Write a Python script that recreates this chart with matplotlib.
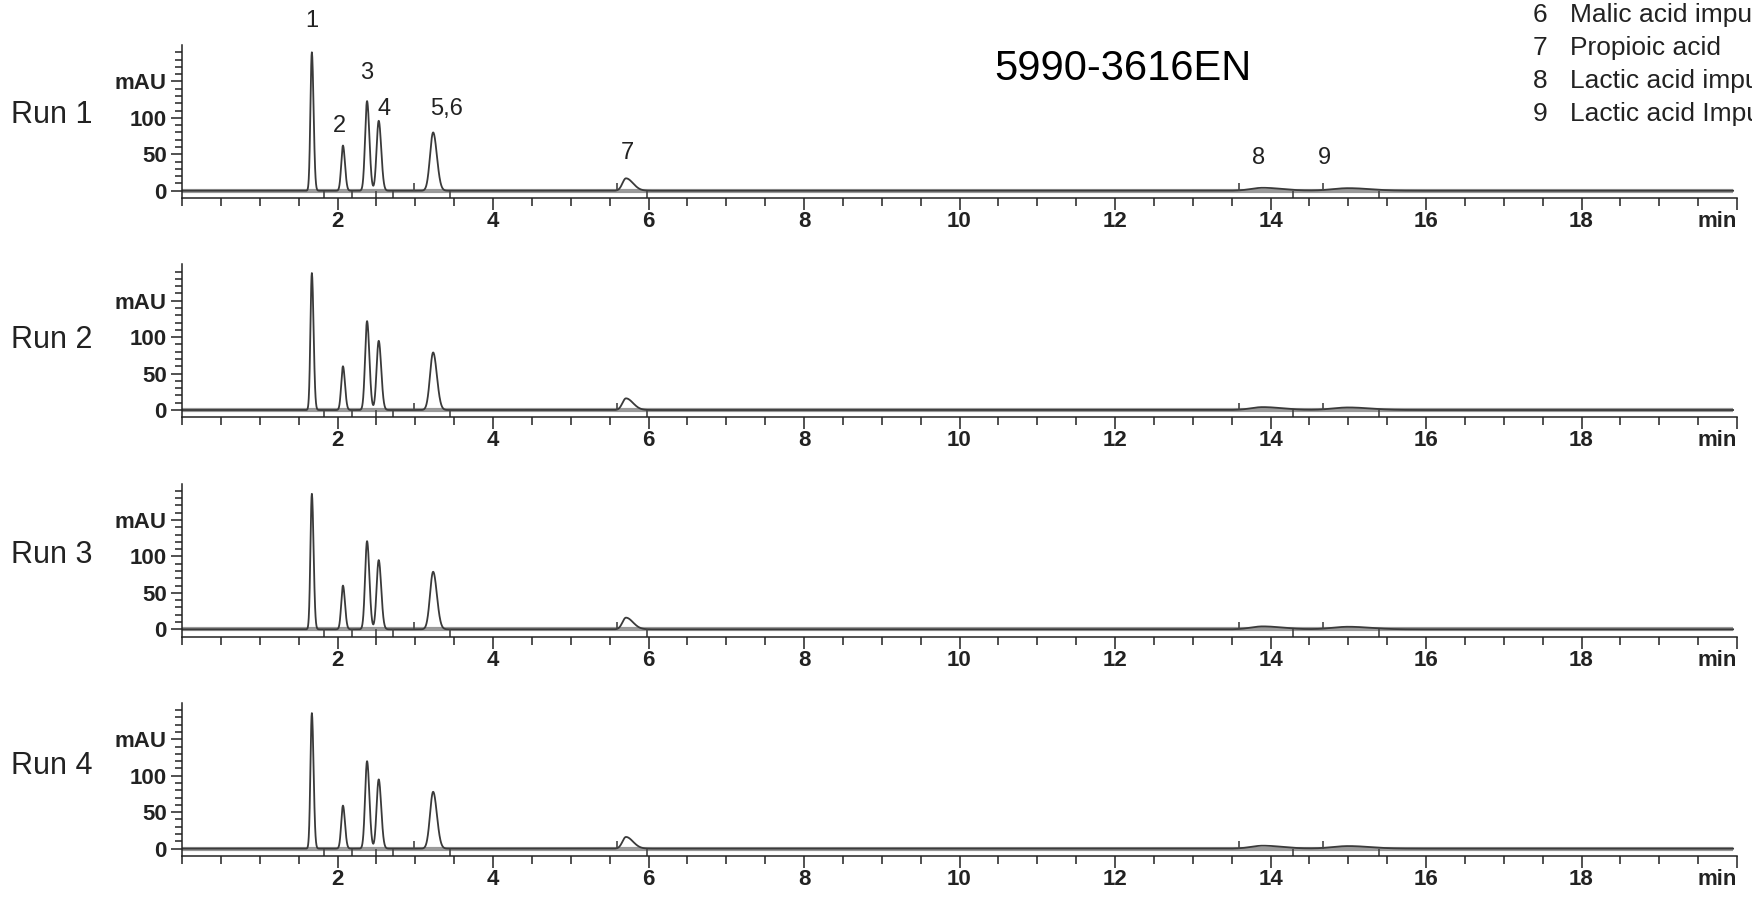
import matplotlib.pyplot as plt
import numpy as np
from matplotlib.ticker import MultipleLocator

plt.rcParams['font.family'] = ['Liberation Sans', 'DejaVu Sans']

runs = ['Run 1', 'Run 2', 'Run 3', 'Run 4']

# peak table: retention time (min), left/right widths (sigma, min)
peak_rt = [1.67, 2.07, 2.38, 2.53, 3.23, 5.71, 13.9, 15.0]
peak_sl = [0.018, 0.022, 0.025, 0.027, 0.040, 0.045, 0.15, 0.20]
peak_sr = [0.022, 0.026, 0.030, 0.032, 0.048, 0.090, 0.25, 0.28]

# peak heights (mAU) per run
heights = {
    'Run 1': [190, 62, 123, 96, 80, 17, 4, 3.5],
    'Run 2': [188, 60, 122, 95, 79, 16, 4, 3.5],
    'Run 3': [186, 60, 121, 95, 79, 16, 4, 3.5],
    'Run 4': [186, 59, 120, 95, 78, 16, 4, 3.5],
}

# integration event marks (min)
mark_up = [2.98, 5.60, 13.60, 14.68]
mark_down = [1.82, 2.19, 2.49, 2.72, 3.45, 5.98, 14.29, 15.40]

peak_labels = ['1', '2', '3', '4', '5,6', '7', '8', '9']
label_t = [1.675, 2.02, 2.37, 2.60, 3.40, 5.73, 13.85, 14.70]
label_y = [233, 89, 161, 112, 112, 52, 45, 45]

legend_num = ['6', '7', '8', '9']
legend_txt = ['Malic acid impurity', 'Propioic acid', 'Lactic acid impurity', 'Lactic acid Impurity']

xtick_pos = [2, 4, 6, 8, 10, 12, 14, 16, 18, 20]
xtick_lab = ['2', '4', '6', '8', '10', '12', '14', '16', '18', 'min']

W, H = 1752, 900
fig = plt.figure(figsize=(W / 100, H / 100), dpi=100)

t = np.linspace(0, 19.95, 10000)
run_label_px = [115, 340, 555, 766]
ink = '#222222'

for i, run in enumerate(runs):
    bottom_px = 198 + 219.3 * i
    ax = fig.add_axes([182 / W, 1 - bottom_px / H, 1555 / W, 153 / H])

    sig = np.zeros_like(t)
    for rt, sl, sr, h in zip(peak_rt, peak_sl, peak_sr, heights[run]):
        s = np.where(t < rt, sl, sr)
        sig += h * np.exp(-0.5 * ((t - rt) / s) ** 2)

    ax.plot([0, 19.95], [0, 0], color='#9a9a9a', lw=3, solid_capstyle='butt')
    ax.plot(t, sig, color='#3a3a3a', lw=1.3)
    ax.vlines(mark_up, 0, 10, color='#444444', lw=1.2)
    ax.vlines(mark_down, -10, 0, color='#444444', lw=1.2)

    ax.set_xlim(0, 20)
    ax.set_ylim(-10, 200)
    for s in ['top', 'right']:
        ax.spines[s].set_visible(False)
    for s in ['left', 'bottom']:
        ax.spines[s].set_color(ink)
        ax.spines[s].set_linewidth(1.1)

    ax.set_xticks(xtick_pos, xtick_lab)
    ax.xaxis.set_minor_locator(MultipleLocator(0.5))
    ax.set_yticks([0, 50, 100, 150], ['0', '50', '100', 'mAU'])
    ax.set_yticks(np.arange(10, 200, 10), minor=True)
    ax.tick_params(axis='x', which='major', length=8.5, width=1.1, pad=1, color=ink,
                   labelsize=16, labelcolor=ink)
    ax.tick_params(axis='x', which='minor', length=5.5, width=1.1, color=ink)
    ax.tick_params(axis='y', which='major', length=8, width=1.1, pad=3, color=ink,
                   labelsize=16, labelcolor=ink)
    ax.tick_params(axis='y', which='minor', length=5, width=1.1, color=ink)
    for lab in ax.get_xticklabels() + ax.get_yticklabels():
        lab.set_fontweight('bold')
    ax.get_xticklabels()[-1].set_horizontalalignment('right')

    fig.text(11 / W, 1 - run_label_px[i] / H, run, fontsize=22, va='center', ha='left', color=ink)

    if i == 0:
        for txt, lt, ly in zip(peak_labels, label_t, label_y):
            ax.text(lt, ly, txt, fontsize=17, ha='center', va='center', color=ink)

fig.text(1123 / W, 1 - 69 / H, '5990-3616EN', fontsize=30, ha='center', va='center',
         color='black')

# compound key in the top right corner, cut by the page edge as in the source
for k, (num, txt) in enumerate(zip(legend_num, legend_txt)):
    y = 1 - (15 + 33 * k) / H
    fig.text(1540 / W, y, num, fontsize=19, ha='center', va='center', color=ink)
    fig.text(1570 / W, y, txt, fontsize=19, ha='left', va='center', color=ink)

fig.savefig('out.png', dpi=100)
